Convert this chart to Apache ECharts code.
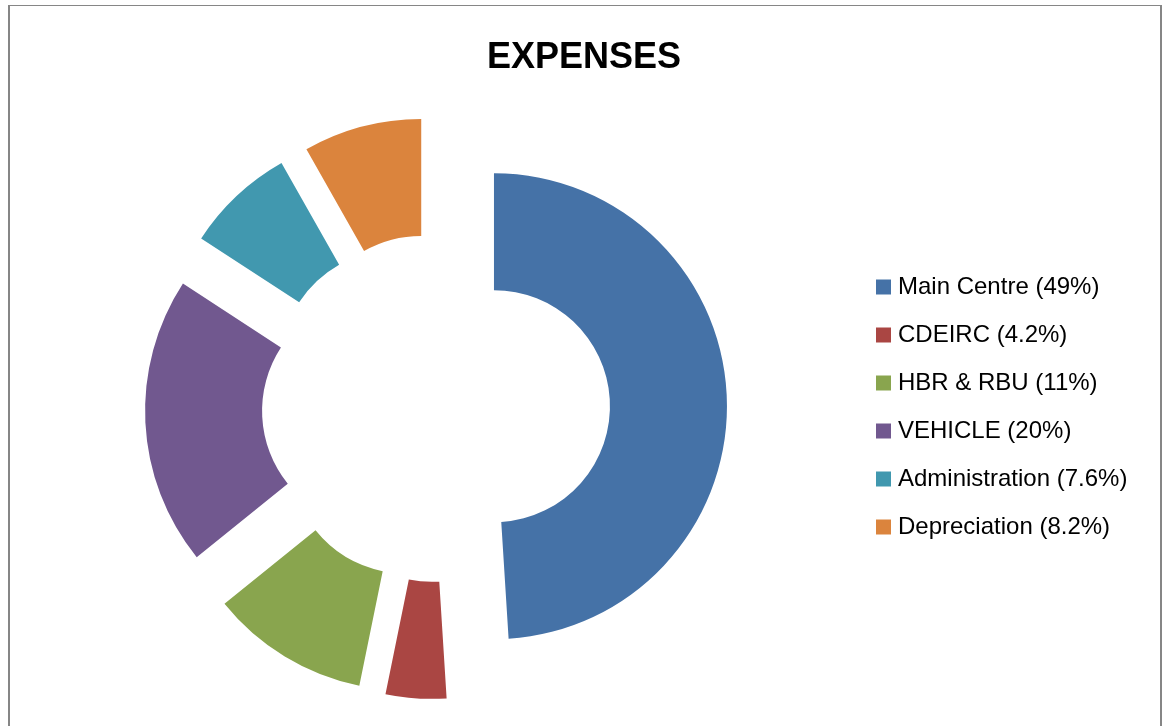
<!DOCTYPE html>
<html>
<head>
<meta charset="utf-8">
<script src="https://cdn.jsdelivr.net/npm/echarts@6/dist/echarts.min.js"></script>
<style>
html,body{margin:0;padding:0;background:#fff;}
#chart{width:1163px;height:726px;}
</style>
</head>
<body>
<div id="chart"></div>
<script>
const categories = ['Main Centre', 'CDEIRC', 'HBR & RBU', 'VEHICLE', 'Administration', 'Depreciation'];
const values = [49, 4.2, 11, 20, 7.6, 8.2];
const colors = ['#4572A7', '#AA4643', '#89A54E', '#71588F', '#4198AF', '#DB843D'];

const chart = echarts.init(document.getElementById('chart'), null, {renderer: 'canvas'});
const data = categories.map((c, i) => ({
  name: c,
  value: values[i],
  selected: true,
  itemStyle: {color: colors[i]}
}));
chart.setOption({
  animation: false,
  title: {
    text: 'EXPENSES',
    left: 487,
    top: 40,
    padding: 0,
    textStyle: {fontFamily: 'Liberation Sans', fontWeight: 'bold', fontSize: 36, color: '#000'}
  },
  legend: {
    orient: 'vertical',
    left: 876,
    top: 275,
    padding: 0,
    icon: 'rect',
    itemWidth: 15,
    itemHeight: 15,
    itemGap: 24,
    selectedMode: false,
    data: categories,
    formatter: function (name) {
      const i = categories.indexOf(name);
      return name + ' (' + values[i] + '%)';
    },
    textStyle: {fontFamily: 'Liberation Sans', fontSize: 24, color: '#000', lineHeight: 24, padding: [0, 0, 0, 2]}
  },
  graphic: [
    {type: 'rect', shape: {x: 8, y: 5, width: 2, height: 730}, style: {fill: '#868686'}, silent: true},
    {type: 'rect', shape: {x: 8, y: 5, width: 1154, height: 1}, style: {fill: '#868686'}, silent: true},
    {type: 'rect', shape: {x: 1160, y: 5, width: 2, height: 730}, style: {fill: '#868686'}, silent: true}
  ],
  series: [{
    type: 'pie',
    center: [436, 408],
    radius: [116, 233],
    startAngle: 90,
    clockwise: true,
    selectedMode: 'multiple',
    selectedOffset: 58,
    avoidLabelOverlap: false,
    label: {show: false},
    labelLine: {show: false},
    emphasis: {disabled: true},
    select: {itemStyle: {borderWidth: 0}},
    itemStyle: {borderWidth: 0},
    data: data
  }]
});
</script>
</body>
</html>
